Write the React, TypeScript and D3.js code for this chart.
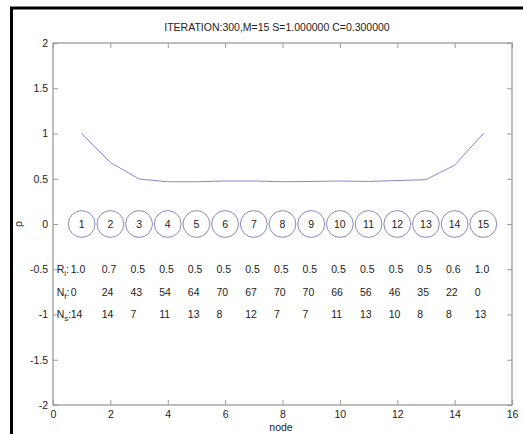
import React, { useEffect, useRef } from 'react';
import * as d3 from 'd3';

const nodes = [1, 2, 3, 4, 5, 6, 7, 8, 9, 10, 11, 12, 13, 14, 15];
const rho = [1.0, 0.68, 0.497, 0.467, 0.467, 0.475, 0.475, 0.467, 0.47, 0.475, 0.47, 0.48, 0.49, 0.65, 1.0];
const Ri = ['1.0', '0.7', '0.5', '0.5', '0.5', '0.5', '0.5', '0.5', '0.5', '0.5', '0.5', '0.5', '0.5', '0.6', '1.0'];
const Nf = [0, 24, 43, 54, 64, 70, 67, 70, 70, 66, 56, 46, 35, 22, 0];
const Ns = [14, 14, 7, 11, 13, 8, 12, 7, 7, 11, 13, 10, 8, 8, 13];
const xTicks = [0, 2, 4, 6, 8, 10, 12, 14, 16];
const yTicks = [-2, -1.5, -1, -0.5, 0, 0.5, 1, 1.5, 2];
const title = 'ITERATION:300,M=15 S=1.000000 C=0.300000';

const rows = [
  { main: 'R', sub: 'i', y: -0.5, values: Ri.map(String) },
  { main: 'N', sub: 'f', y: -0.75, values: Nf.map(String) },
  { main: 'N', sub: 's', y: -1, values: Ns.map(String) },
];

const FONT = '"Liberation Sans", Arial, sans-serif';
const FS = 10.5;

function App() {
  const svgRef = useRef<SVGSVGElement>(null);

  useEffect(() => {
    const svg = d3.select(svgRef.current);
    svg.selectAll('*').remove();

    const x = d3.scaleLinear().domain([0, 16]).range([53, 512]);
    const y = d3.scaleLinear().domain([-2, 2]).range([405, 43]);

    svg.append('rect').attr('width', 523).attr('height', 434).attr('fill', '#fff');

    // outer frame (black, only top and left visible)
    svg.append('path')
      .attr('d', 'M11.5,434 L11.5,8 L523,8')
      .attr('fill', 'none')
      .attr('stroke', '#000')
      .attr('stroke-width', 3);

    const axisColor = '#9a9a9a';
    const styleAxis = (g: any, labels: boolean) => {
      g.select('.domain').remove();
      g.selectAll('.tick line').attr('stroke', axisColor);
      g.selectAll('.tick text')
        .attr('fill', labels ? '#222' : 'none')
        .attr('font-size', FS)
        .attr('font-family', FONT);
    };

    svg.append('g').attr('transform', 'translate(0,405)')
      .call(d3.axisBottom(x).tickValues(xTicks).tickSize(-5).tickPadding(6).tickFormat(d3.format('d')))
      .call((g: any) => styleAxis(g, true));
    svg.append('g').attr('transform', 'translate(0,43)')
      .call(d3.axisTop(x).tickValues(xTicks).tickSize(-5).tickFormat(() => ''))
      .call((g: any) => styleAxis(g, false));
    svg.append('g').attr('transform', 'translate(53,0)')
      .call(d3.axisLeft(y).tickValues(yTicks).tickSize(-5).tickPadding(5).tickFormat((d: any) => String(d)))
      .call((g: any) => styleAxis(g, true));
    svg.append('g').attr('transform', 'translate(512,0)')
      .call(d3.axisRight(y).tickValues(yTicks).tickSize(-5).tickFormat(() => ''))
      .call((g: any) => styleAxis(g, false));

    svg.append('rect')
      .attr('x', x(0)).attr('y', y(2))
      .attr('width', x(16) - x(0)).attr('height', y(-2) - y(2))
      .attr('fill', 'none').attr('stroke', axisColor).attr('stroke-width', 1.3);

    // rho line
    const line = d3.line<number>().x((_, i) => x(nodes[i])).y(d => y(d));
    svg.append('path')
      .datum(rho)
      .attr('d', line)
      .attr('fill', 'none')
      .attr('stroke', '#8888d0')
      .attr('stroke-width', 1);

    // node circles
    const g = svg.append('g');
    g.selectAll('circle').data(nodes).enter().append('circle')
      .attr('cx', d => x(d)).attr('cy', y(0)).attr('r', 13.4)
      .attr('fill', 'none').attr('stroke', '#8a8abb').attr('stroke-width', 1);
    g.selectAll('text.num').data(nodes).enter().append('text')
      .attr('class', 'num')
      .attr('x', d => x(d)).attr('y', y(0)).attr('dy', '0.35em')
      .attr('text-anchor', 'middle')
      .attr('font-size', FS).attr('font-family', FONT).attr('fill', '#222')
      .text(d => d);

    // text rows
    rows.forEach(r => {
      const t = svg.append('text')
        .attr('x', x(0.13)).attr('y', y(r.y)).attr('dy', '0.35em')
        .attr('font-size', FS).attr('font-family', FONT).attr('fill', '#222');
      t.append('tspan').text(r.main);
      t.append('tspan').attr('font-size', 8).attr('dy', 3).text(r.sub);
      t.append('tspan').attr('dy', -3).text(':');
      svg.selectAll(null).data(r.values).enter().append('text')
        .attr('x', (_, i) => x(i === 0 ? 0.62 : nodes[i] - 0.3))
        .attr('y', y(r.y)).attr('dy', '0.35em')
        .attr('font-size', FS).attr('font-family', FONT).attr('fill', '#222')
        .text(d => d);
    });

    svg.append('text')
      .attr('x', 277).attr('y', 31).attr('text-anchor', 'middle')
      .attr('font-size', FS).attr('font-family', FONT).attr('fill', '#222')
      .text(title);
    svg.append('text')
      .attr('x', 281).attr('y', 431).attr('text-anchor', 'middle')
      .attr('font-size', FS).attr('font-family', FONT).attr('fill', '#222')
      .text('node');
    svg.append('text')
      .attr('transform', `translate(22,${y(0)}) rotate(-90)`)
      .attr('text-anchor', 'middle')
      .attr('font-size', FS).attr('font-family', FONT).attr('fill', '#222')
      .text('ρ');
  }, []);

  return (
    <svg ref={svgRef} width="523" height="434" style={{ position: 'absolute', left: 0, top: 0 }}></svg>
  );
}

export default App;
